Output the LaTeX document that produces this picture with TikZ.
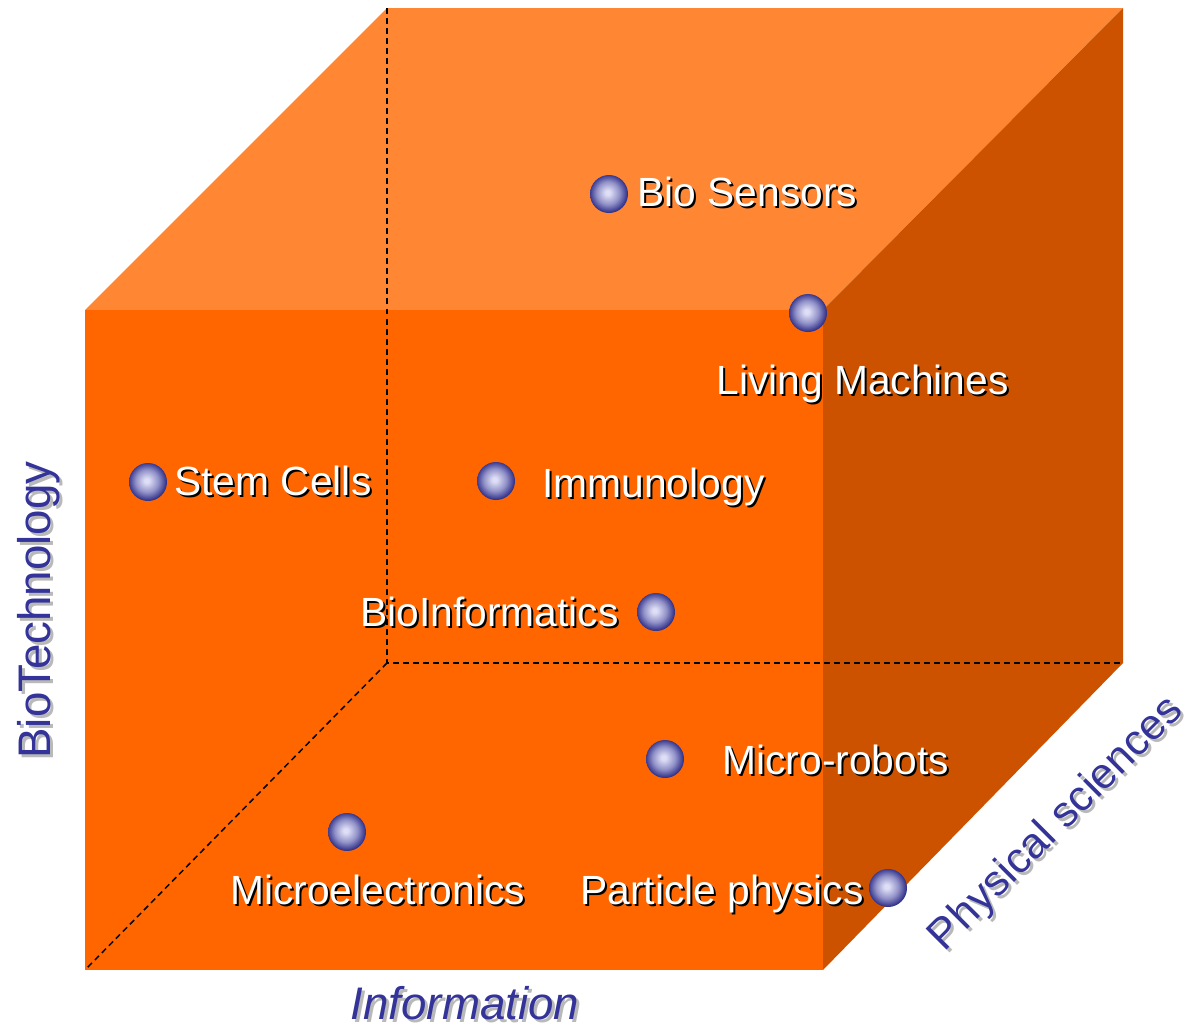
\documentclass[tikz,border=0pt]{standalone}
\usepackage{fontspec}
\usepackage{tikz}
\setmainfont{Liberation Sans}

\definecolor{topface}{RGB}{255,134,51}
\definecolor{frontface}{RGB}{255,102,0}
\definecolor{sideface}{RGB}{204,82,0}
\definecolor{axisblue}{RGB}{51,51,153}
\definecolor{axisgray}{RGB}{185,185,185}
\definecolor{orbin}{RGB}{222,222,246}
\definecolor{orbmid}{RGB}{145,145,200}
\definecolor{orbout}{RGB}{50,50,138}
\pgfdeclareradialshading{orb}{\pgfpoint{-2bp}{2bp}}{color(0bp)=(orbin); color(3bp)=(orbin); color(15bp)=(orbmid); color(25bp)=(orbout); color(50bp)=(orbout)}

\begin{document}
\begin{tikzpicture}[scale=0.2,
		ball/.style={circle, minimum size=0.76cm, shade, shading=orb},
		lbl/.style={text=white, anchor=base west, font=\fontsize{23.2}{27}\selectfont},
		lbl shadow/.style={lbl, text=black},
		axis/.style={text=axisblue, anchor=base, font=\fontsize{26}{30}\selectfont},
		axis shadow/.style={axis, text=axisgray},
		hidden/.style={black, dash pattern=on 3.4pt off 2.3pt, line width=0.85pt}]
				\tikzstyle{every node}+=[inner sep=0pt]
				\useasboundingbox (0,0) rectangle (119.1,-102.7);
				% cube corners
				\coordinate (f1) at (8.5,-31.0);
				\coordinate (f2) at (82.3,-31.0);
				\coordinate (f3) at (82.3,-97.0);
				\coordinate (f4) at (8.5,-97.0);
				\coordinate (b1) at (38.7,-0.8);
				\coordinate (b2) at (112.3,-0.8);
				\coordinate (b3) at (112.3,-66.3);
				\coordinate (b4) at (38.7,-66.3);
				\fill [topface] (f1) -- (b1) -- (b2) -- (f2) -- cycle;
				\fill [sideface] (f2) -- (b2) -- (b3) -- (f3) -- cycle;
				\fill [frontface] (f1) -- (f2) -- (f3) -- (f4) -- cycle;
				\draw [hidden] (b1) -- (b4) -- (b3);
				\draw [hidden] (b4) -- (f4);
				% balls
				\node [ball] (bios) at (60.9,-19.4) {};
				\node [ball] (living) at (80.8,-31.3) {};
				\node [ball] (stem) at (14.8,-48.2) {};
				\node [ball] (immuno) at (49.6,-48.1) {};
				\node [ball] (bioinf) at (65.6,-61.2) {};
				\node [ball] (robots) at (66.5,-75.9) {};
				\node [ball] (microel) at (34.7,-83.2) {};
				\node [ball] (particle) at (88.8,-88.8) {};
				% labels
				\node [lbl shadow] (bios-s) at (63.9,-20.8) {Bio Sensors};
				\node [lbl] (bios-t) at (63.7,-20.6) {Bio Sensors};
				\node [lbl shadow] (living-s) at (71.8,-39.6) {Living Machines};
				\node [lbl] (living-t) at (71.6,-39.4) {Living Machines};
				\node [lbl shadow] (stem-s) at (17.6,-49.7) {Stem Cells};
				\node [lbl] (stem-t) at (17.4,-49.5) {Stem Cells};
				\node [lbl shadow] (immuno-s) at (54.4,-49.9) {Immunology};
				\node [lbl] (immuno-t) at (54.2,-49.7) {Immunology};
				\node [lbl shadow] (bioinf-s) at (36.2,-62.8) {BioInformatics};
				\node [lbl] (bioinf-t) at (36.0,-62.6) {BioInformatics};
				\node [lbl shadow] (robots-s) at (72.4,-77.6) {Micro-robots};
				\node [lbl] (robots-t) at (72.2,-77.4) {Micro-robots};
				\node [lbl shadow] (microel-s) at (23.2,-90.6) {Microelectronics};
				\node [lbl] (microel-t) at (23.0,-90.4) {Microelectronics};
				\node [lbl shadow] (particle-s) at (58.2,-90.6) {Particle physics};
				\node [lbl] (particle-t) at (58.0,-90.4) {Particle physics};
				% axes
				\node [axis shadow, rotate=90] (biotech-s) at (5.3,-61.3) {BioTechnology};
				\node [axis, rotate=90] (biotech) at (5.0,-61.0) {BioTechnology};
				\node [axis shadow, font=\fontsize{26}{30}\selectfont\itshape] (info-s) at (46.8,-102.2) {Information};
				\node [axis, font=\fontsize{26}{30}\selectfont\itshape] (info) at (46.5,-101.9) {Information};
				\node [axis shadow, rotate=45, font=\fontsize{24.5}{28}\selectfont] (phys-s) at (106.8,-83.5) {Physical sciences};
				\node [axis, rotate=45, font=\fontsize{24.5}{28}\selectfont] (phys) at (106.5,-83.2) {Physical sciences};
			\end{tikzpicture}
\end{document}
